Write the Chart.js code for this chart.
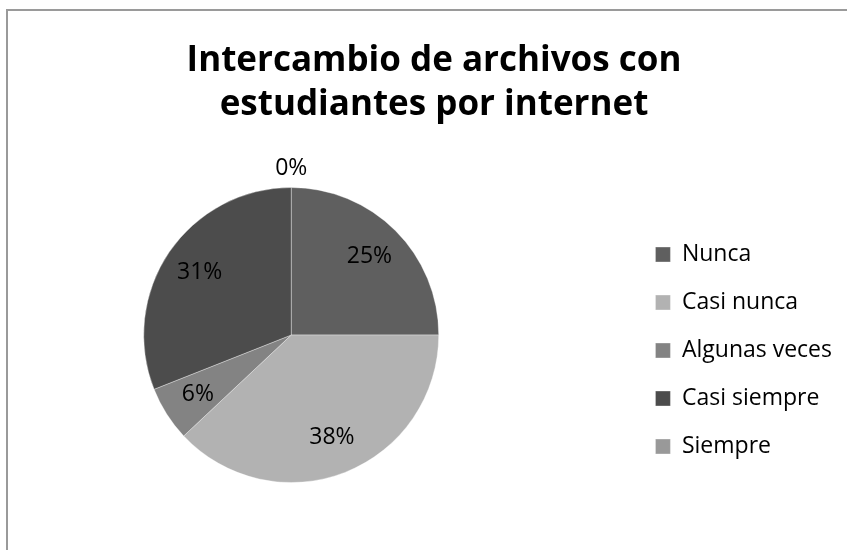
<!DOCTYPE html>
<html lang="es">
<head>
<meta charset="UTF-8">
<title>Intercambio de archivos con estudiantes por internet</title>
<script src="https://cdn.jsdelivr.net/npm/chart.js"></script>
<style>
  html, body { margin: 0; padding: 0; background: #fff; overflow: hidden; }
  /* marco gris del grafico (sale por la derecha y por abajo) */
  .marco { position: absolute; left: 6px; top: 9px; width: 900px; height: 600px; border: 2px solid #9a9a9a; }
  #grafico { position: absolute; left: 0; top: 0; }
</style>
</head>
<body>
<div class="marco"></div>
<canvas id="grafico" width="847" height="550"></canvas>

<script>
const titulo = ['Intercambio de archivos con', 'estudiantes por internet'];
const categorias = ['Nunca', 'Casi nunca', 'Algunas veces', 'Casi siempre', 'Siempre'];
const porcentajes = [25, 38, 6, 31, 0];
const colores = ['#5f5f5f', '#b2b2b2', '#838383', '#4c4c4c', '#999999'];
const fuente = '"Open Sans", Lato, sans-serif';

// etiquetas de porcentaje dentro de cada porcion (no hay plugin datalabels offline)
const etiquetasPorcentaje = {
    id: 'etiquetasPorcentaje',
    afterDatasetsDraw(chart) {
        const ctx = chart.ctx;
        const arcos = chart.getDatasetMeta(0).data;
        ctx.save();
        ctx.font = '23px ' + fuente;
        ctx.fillStyle = '#000';
        ctx.textAlign = 'center';
        ctx.textBaseline = 'middle';
        arcos.forEach((arco, i) => {
            const { x, y, startAngle, endAngle, outerRadius } =
                arco.getProps(['x', 'y', 'startAngle', 'endAngle', 'outerRadius'], true);
            const medio = (startAngle + endAngle) / 2;
            // el 0% queda fuera del circulo, arriba
            const r = porcentajes[i] === 0 ? outerRadius + 19 : outerRadius * 0.75;
            ctx.fillText(porcentajes[i] + '%', x + Math.cos(medio) * r, y + Math.sin(medio) * r);
        });
        ctx.restore();
    }
};

new Chart(document.getElementById('grafico'), {
    type: 'pie',
    data: {
        labels: categorias,
        datasets: [{
            data: porcentajes,
            backgroundColor: colores,
            borderColor: 'rgba(255, 255, 255, 0.35)',
            borderWidth: 1
        }]
    },
    options: {
        responsive: false,
        animation: false,
        events: [],
        layout: { padding: { left: 26, right: 5, top: 0, bottom: 67 } },
        scales: {
            // eje invisible: solo separa la torta de la leyenda
            hueco: {
                type: 'linear',
                position: 'right',
                display: false,
                afterFit: (s) => { s.width = 74; }
            }
        },
        plugins: {
            title: {
                display: true,
                text: titulo,
                color: '#000',
                font: { family: fuente, size: 35, weight: 'bold', lineHeight: '44px' },
                padding: { top: 39, bottom: 60 }
            },
            legend: {
                position: 'right',
                align: 'end',
                labels: {
                    color: '#000',
                    font: { family: fuente, size: 23 },
                    boxWidth: 15,
                    boxHeight: 15,
                    padding: 25
                }
            },
            tooltip: { enabled: false }
        }
    },
    plugins: [etiquetasPorcentaje]
});
</script>
</body>
</html>
